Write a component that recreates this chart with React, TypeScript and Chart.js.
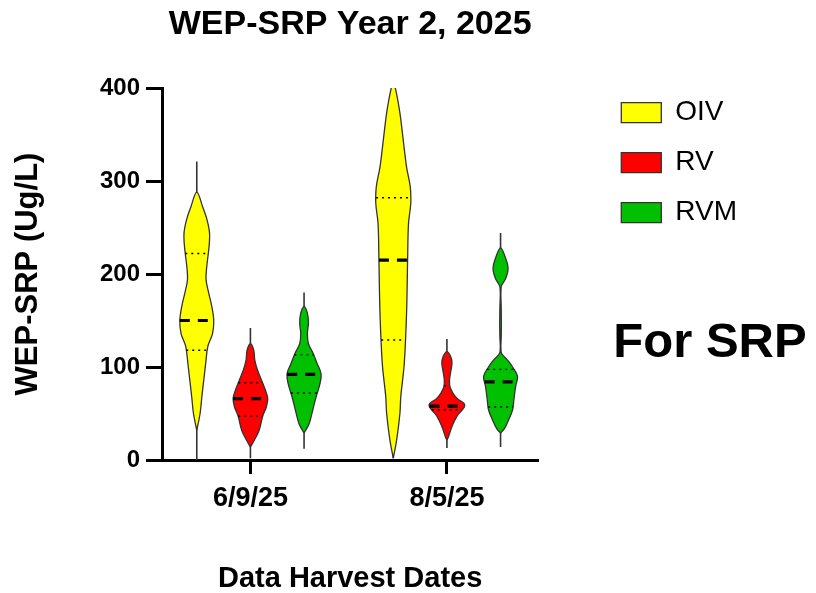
import React, { useEffect, useRef } from 'react';
import { Chart, registerables } from 'chart.js';

Chart.register(...registerables);

// ---------------- data ----------------
const categories = ['6/9/25', '8/5/25'];
const seriesNames = ['OIV', 'RV', 'RVM'];

// summary stats per date: [min, q1, median, q3, max] (Ug/L)
const oivStats = [[0, 118, 150, 222, 321], [2, 129, 215, 282, 402]];
const rvStats = [[2, 47, 66, 83, 142], [13, 54, 58, 80, 130]];
const rvmStats = [[12, 72, 92, 113, 180], [14, 57, 84, 97.5, 244]];

// violin outline: levels (Ug/L) and relative density at each level, per date
const oivLevels = [
  [32, 50, 68, 86, 104, 122, 136, 150, 165, 179, 194, 208, 229, 244, 258, 272, 288],
  [2, 21, 50, 68, 104, 158, 215, 254, 276, 294, 315, 344, 373, 398, 405],
];
const oivDensity = [
  [0, 0.19, 0.29, 0.4, 0.51, 0.63, 0.9, 0.97, 0.86, 0.69, 0.53, 0.57, 0.7, 0.73, 0.59, 0.34, 0],
  [0, 0.19, 0.38, 0.43, 0.63, 0.76, 0.82, 0.87, 1, 0.97, 0.76, 0.57, 0.38, 0.14, 0],
];
const rvLevels = [
  [14, 21.5, 32, 47, 57, 66, 75, 86, 97, 107.5, 118, 125],
  [21.5, 25, 36, 47, 57, 61, 66, 72, 79, 86, 93, 104, 111, 116.5],
];
const rvDensity = [
  [0, 0.23, 0.5, 0.7, 0.91, 0.99, 0.86, 0.63, 0.4, 0.25, 0.19, 0],
  [0, 0.09, 0.29, 0.57, 1, 0.97, 0.6, 0.34, 0.17, 0.15, 0.2, 0.29, 0.22, 0],
];
const rvmLevels = [
  [29, 39, 54, 68, 82, 93, 104, 115, 125, 136, 147, 158, 165],
  [29, 34, 43, 54, 64.5, 79, 90, 100, 107.5, 116.5, 185, 195, 206, 217, 228],
];
const rvmDensity = [
  [0, 0.29, 0.5, 0.69, 0.91, 0.97, 0.74, 0.51, 0.25, 0.19, 0.25, 0.19, 0],
  [0, 0.23, 0.46, 0.69, 0.76, 0.86, 0.97, 0.69, 0.4, 0.02, 0.02, 0.29, 0.43, 0.29, 0],
];

// ---------------- styles / layout constants ----------------
const seriesColors = ['#FFFF00', '#FF0000', '#00C000'];
const OUTLINE = '#333333';
const GROUP_OFFSET = 0.273; // x-units between violins in a group
const HALF_WIDTH = 0.089; // x-units for density = 1
const FONT = '"Liberation Sans", Arial, Helvetica, sans-serif';

function widthAt(lv: number[], dn: number[], v: number) {
  for (let i = 0; i < lv.length - 1; i++) {
    if (v >= lv[i] && v <= lv[i + 1]) {
      const t = (v - lv[i]) / (lv[i + 1] - lv[i]);
      return dn[i] + t * (dn[i + 1] - dn[i]);
    }
  }
  return 0;
}

function buildDatasets() {
  const stats = [oivStats, rvStats, rvmStats];
  const levels = [oivLevels, rvLevels, rvmLevels];
  const density = [oivDensity, rvDensity, rvmDensity];
  const ds: any[] = [];
  for (let s = 0; s < seriesNames.length; s++) {
    for (let g = 0; g < categories.length; g++) {
      const c = g + 1 + (s - 1) * GROUP_OFFSET;
      const lv = levels[s][g];
      const dn = density[s][g];
      const pts: { x: number; y: number }[] = [];
      for (let i = 0; i < lv.length; i++) pts.push({ x: c + dn[i] * HALF_WIDTH, y: lv[i] });
      for (let i = lv.length - 2; i >= 0; i--) pts.push({ x: c - dn[i] * HALF_WIDTH, y: lv[i] });
      ds.push({
        label: seriesNames[s],
        data: pts,
        fill: 'shape',
        backgroundColor: seriesColors[s],
        borderColor: OUTLINE,
        borderWidth: 1.3,
        tension: 0.35,
        order: 1,
        inLegend: g === 0,
      });
      const [mn, q1, med, q3, mx] = stats[s][g];
      ds.push({
        label: seriesNames[s] + ' range',
        data: [{ x: c, y: mn }, { x: c, y: mx }],
        borderColor: OUTLINE,
        borderWidth: 1.6,
        fill: false,
        order: 2,
        inLegend: false,
      });
      const mw = widthAt(lv, dn, med) * HALF_WIDTH;
      ds.push({
        label: seriesNames[s] + ' median',
        data: [{ x: c - mw, y: med }, { x: c + mw, y: med }],
        borderColor: '#000',
        borderWidth: 3.2,
        borderDash: [10, 8],
        fill: false,
        order: 0,
        inLegend: false,
      });
      for (const q of [q1, q3]) {
        const qw = widthAt(lv, dn, q) * HALF_WIDTH;
        ds.push({
          label: seriesNames[s] + ' quartile',
          data: [{ x: c - qw, y: q }, { x: c + qw, y: q }],
          borderColor: '#000',
          borderWidth: 1.4,
          borderDash: [2, 4],
          fill: false,
          order: 0,
          inLegend: false,
        });
      }
    }
  }
  return ds;
}

const srpLabel = {
  id: 'srpLabel',
  afterDraw(chart: any) {
    const ctx = chart.ctx;
    ctx.save();
    ctx.font = `bold 49px ${FONT}`;
    ctx.fillStyle = '#000';
    ctx.textAlign = 'center';
    ctx.textBaseline = 'alphabetic';
    ctx.fillText('For SRP', 710, 357);
    ctx.restore();
  },
};

export default function App() {
  const ref = useRef<HTMLCanvasElement>(null);
  useEffect(() => {
    Chart.defaults.font.family = FONT;
    Chart.defaults.color = '#000';
    const chart = new Chart(ref.current as HTMLCanvasElement, {
      type: 'line',
      data: { datasets: buildDatasets() },
      plugins: [srpLabel],
      options: {
        responsive: false,
        animation: false,
        devicePixelRatio: 1,
        events: [],
        layout: { padding: { left: 0, right: 69, top: 0, bottom: 0 } },
        elements: { point: { radius: 0, hitRadius: 0 } },
        plugins: {
          tooltip: { enabled: false },
          title: {
            display: true,
            text: 'WEP-SRP Year 2, 2025',
            fullSize: false,
            color: '#000',
            font: { size: 34, weight: 'bold', lineHeight: 1 },
            padding: { top: 8, bottom: 46 },
          },
          legend: {
            display: true,
            position: 'right',
            align: 'start',
            maxWidth: 220,
            title: { display: true, text: '', font: { size: 10, lineHeight: 1 }, padding: { top: 66.7, bottom: 0 } },
            labels: {
              boxWidth: 40,
              boxHeight: 20,
              padding: 22,
              color: '#000',
              font: { size: 28 },
              filter: (item: any, data: any) => !!data.datasets[item.datasetIndex].inLegend,
            },
          },
        },
        scales: {
          x: {
            type: 'linear',
            min: 0.55,
            max: 2.465,
            afterBuildTicks: (scale: any) => {
              scale.ticks = categories.map((_, i) => ({ value: i + 1 }));
            },
            afterFit: (scale: any) => {
              scale.height = 133;
            },
            ticks: {
              autoSkip: false,
              padding: 8,
              color: '#000',
              font: { size: 27, weight: 'bold' },
              callback: (v: any) => categories[Math.round(Number(v)) - 1] ?? '',
            },
            grid: { display: true, drawOnChartArea: false, drawTicks: true, tickLength: 14, tickWidth: 3, tickColor: '#000' },
            border: { display: true, color: '#000', width: 3 },
            title: {
              display: true,
              text: 'Data Harvest Dates',
              color: '#000',
              font: { size: 29, weight: 'bold', lineHeight: 1 },
              padding: { top: 0, bottom: 0 },
            },
          },
          y: {
            type: 'linear',
            position: 'left',
            min: 0,
            max: 400,
            afterFit: (scale: any) => {
              scale.width = 162;
            },
            ticks: { stepSize: 100, padding: 6, color: '#000', font: { size: 24, weight: 'bold' } },
            grid: { display: true, drawOnChartArea: false, drawTicks: true, tickLength: 16, tickWidth: 3, tickColor: '#000' },
            border: { display: true, color: '#000', width: 3 },
            title: {
              display: true,
              text: 'WEP-SRP (Ug/L)',
              color: '#000',
              font: { size: 31, weight: 'bold', lineHeight: 1 },
              padding: { top: 13, bottom: 0 },
            },
          },
          y2: {
            type: 'linear',
            position: 'right',
            display: true,
            afterFit: (scale: any) => {
              scale.width = 61;
            },
            ticks: { display: false },
            grid: { display: false },
            border: { display: false },
          },
        },
      } as any,
    });
    return () => chart.destroy();
  }, []);
  return (
    <div style={{ position: 'fixed', left: 0, top: 0, width: 816, height: 593, background: '#fff' }}>
      <canvas ref={ref} width={816} height={593} style={{ display: 'block' }} />
    </div>
  );
}
